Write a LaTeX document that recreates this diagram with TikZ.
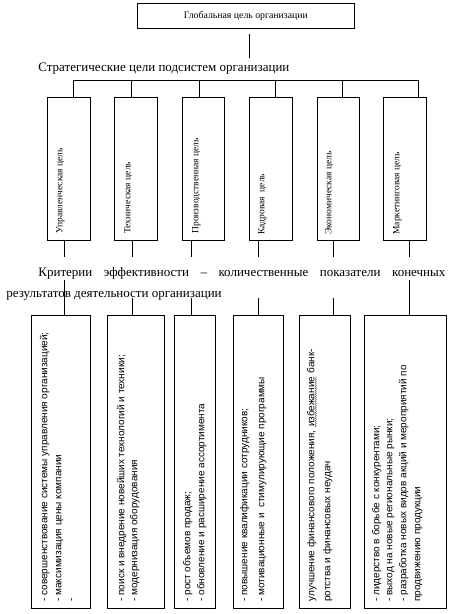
\documentclass[tikz,border=0pt]{standalone}
\usepackage{fontspec}
\setmainfont{Liberation Serif}
\newfontfamily\critfont{Liberation Sans}
\usetikzlibrary{decorations.pathmorphing}
\begin{document}
\begin{tikzpicture}[x=1pt,y=-1pt,line width=0.8pt,
  box/.style={draw,inner sep=0pt,anchor=north west},
  ubox/.style={box,minimum width=43pt,minimum height=143pt},
  lbox/.style={box,minimum height=293pt},
  vlabel/.style={rotate=90,anchor=mid west,inner sep=0pt,font=\fontsize{9.5}{11}\selectfont},
  crit/.style={rotate=90,anchor=mid west,inner sep=0pt,font=\critfont\fontsize{10}{12}\selectfont},
  head/.style={anchor=base west,inner sep=0pt,font=\fontsize{13}{16}\selectfont},
  spell/.style={draw=green!60!black,line width=0.4pt,decorate,decoration={snake,amplitude=0.6pt,segment length=2pt}}]
\useasboundingbox (0,0) rectangle (448,614);
\fill[white] (0,0) rectangle (448,614);

% global goal
\node[box,minimum width=217pt,minimum height=25pt] (g) at (137,3) {};
\node[inner sep=0pt,font=\fontsize{9.8}{11}\selectfont] (gt) at (g.center) {Глобальная цель организации};

\node[head] (st) at (38,71) {Стратегические цели подсистем организации};

% upper boxes
\node[ubox] (u1) at (47,97) {};
\node[ubox] (u2) at (114,97) {};
\node[ubox,minimum width=42pt] (u3) at (182,97) {};
\node[ubox] (u4) at (249,97) {};
\node[ubox,minimum width=42pt] (u5) at (317,97) {};
\node[ubox] (u6) at (383,97) {};

\node[vlabel] (ut1) at (60,234) {Управленческая цель};
\node[vlabel] (ut2) at (128,234) {Техническая цель};
\node[vlabel] (ut3) at (196,234) {Производственная цель};
\node[vlabel] (ut4) at (262,235) {Кадровая\ \ цель};
\node[vlabel] (ut5) at (329,235) {Экономическая цель};
\node[vlabel] (ut6) at (397,235) {Маркетинговая цель};

% criteria text
\node[head] (kr1) at (38,276) {\makebox[407pt][s]{Критерии эффективности – количественные показатели конечных}};
\node[head] (kr2) at (6,297) {результатов деятельности организации};

% lower boxes
\node[lbox,minimum width=59pt] (l1) at (31,315) {};
\node[lbox,minimum width=57pt] (l2) at (107,315) {};
\node[lbox,minimum width=41pt] (l3) at (174,315) {};
\node[lbox,minimum width=50pt] (l4) at (233,315) {};
\node[lbox,minimum width=51pt] (l5) at (299,315) {};
\node[lbox,minimum width=82pt] (l6) at (364,315) {};

\node[crit] (c11) at (45,602) {- совершенствование системы управления организацией;};
\node[crit] (c12) at (59,602) {- максимизация цены компании};
\node[crit] (c13) at (72,602) {-};
\node[crit] (c21) at (122,602) {- поиск и внедрение новейших технологий и техники;};
\node[crit] (c22) at (135,602) {- модернизация оборудования};
\node[crit] (c31) at (188,602) {- рост объемов продаж;};
\node[crit] (c32) at (202,602) {- обновление и расширение ассортимента};
\node[crit] (c41) at (245,602) {- повышение квалификации сотрудников;};
\node[crit] (c42) at (262,602) {- мотивационные и\ \ стимулирующие программы};
\node[crit] (c51) at (312,602) {улучшение финансового положения,};
\node[crit,anchor=base west] (c51w) at ([yshift=2.8pt]c51.base east) {избежание};
\node[crit,anchor=base west] (c51b) at (c51w.base east) {\ банк-};
\draw[spell] ([xshift=1pt]c51w.south west) -- ([xshift=1pt]c51w.south east);
\node[crit] (c52) at (328,602) {ротства и финансовых неудач};
\node[crit] (c61) at (377,602) {- лидерство в борьбе с конкурентами;};
\node[crit] (c62) at (390,602) {- выход на новые региональные рынки;};
\node[crit] (c63) at (404,602) {- разработка новых видов акций и мероприятий по};
\node[crit] (c64) at (418,602) {продвижению продукции};

% connectors
\coordinate (tl) at (249,58);
\draw (g.south -| tl) ++(0,5) -- (tl);

\coordinate (h1) at (73,80);
\coordinate (h2) at (131,80);
\coordinate (h3) at (199,80);
\coordinate (h4) at (275,80);
\coordinate (h5) at (342,80);
\coordinate (h6) at (418,80);
\draw (h1) -- (h6);
\foreach \i in {1,...,6} \draw (h\i) -- (h\i |- u\i.north);

\coordinate (d1) at (64,257);
\coordinate (d2) at (132,257);
\coordinate (d3) at (191,257);
\coordinate (d4) at (258,257);
\coordinate (d5) at (333,257);
\coordinate (d6) at (409,257);
\foreach \i in {1,...,6} \draw (d\i |- u\i.south) -- (d\i);

\coordinate (e1) at (64,280);
\coordinate (e2) at (132,298);
\coordinate (e3) at (191,298);
\coordinate (e4) at (258,298);
\coordinate (e5) at (333,298);
\coordinate (e6) at (409,280);
\foreach \i in {1,...,6} \draw (e\i) -- (e\i |- l\i.north);
\end{tikzpicture}
\end{document}
